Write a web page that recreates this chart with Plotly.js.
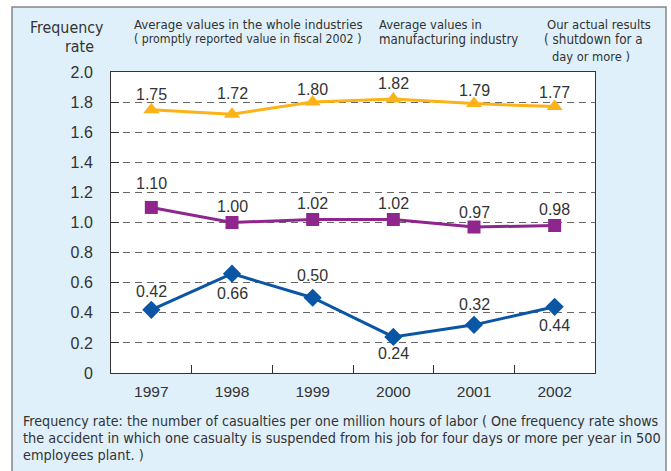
<!DOCTYPE html>
<html><head><meta charset="utf-8">
<script src="https://cdn.plot.ly/plotly-3.0.1.min.js"></script>
<style>html,body{margin:0;padding:0;background:#fff}#chart{width:671px;height:471px}</style>
</head><body><div id="chart"></div>
<script>
const years = ["1997","1998","1999","2000","2001","2002"];
const wholeIndustries = [1.75, 1.72, 1.80, 1.82, 1.79, 1.77];
const manufacturing = [1.10, 1.00, 1.02, 1.02, 0.97, 0.98];
const actualResults = [0.42, 0.66, 0.50, 0.24, 0.32, 0.44];
const yTickVals = [0, 0.2, 0.4, 0.6, 0.8, 1.0, 1.2, 1.4, 1.6, 1.8, 2.0];
const yTickText = ["0","0.2","0.4","0.6","0.8","1.0","1.2","1.4","1.6","1.8","2.0"];
const headerWhole = ["Average values in the whole industries", "( promptly reported value in fiscal 2002 )"];
const headerManu = ["Average values in", "manufacturing industry"];
const headerActual = ["Our actual results", "( shutdown for a", "day or more )"];
const yTitle = ["Frequency", "rate"];
const footnote = [
  "Frequency rate: the number of casualties per one million hours of labor ( One frequency rate shows",
  "the accident in which one casualty is suspended from his job for four days or more per year in 500",
  "employees plant. )"
];

// label placement styling (pixel shifts of value labels from their markers)
const shiftWhole = [15, 21, 13, 16, 13, 14];
const shiftManu = [24, 16, 16, 16, 15, 16];
const shiftActual = [18, -20, 22, -17, 20, -19];

const W = 671, H = 471, L = 111, R = 595, T = 72, B = 373;
const px = x => (x - L) / (R - L);
const py = y => (B - y) / (B - T);
const TXT = "#333333";
const numFam = "Liberation Sans";
const numFont = {family: numFam, size: 15.5, color: TXT};
const narrow = "DejaVu Sans Condensed";

const ctx = document.createElement("canvas").getContext("2d");
function fit(text, targetW) {
  ctx.font = '100px "' + narrow + '"';
  return 100 * targetW / ctx.measureText(text).width;
}

function series(y, color, symbol, size) {
  return {
    x: years, y: y, type: "scatter", mode: "lines+markers",
    line: {color: color, width: 3},
    marker: {color: color, symbol: symbol, size: size},
    hoverinfo: "skip", cliponaxis: false
  };
}

const data = [
  series(wholeIndustries, "#fbb317", "triangle-up", 14),
  series(manufacturing, "#8e268d", "square", 13),
  series(actualResults, "#0a56a5", "diamond", 14)
];

const ann = [];
function valueLabels(vals, shifts) {
  vals.forEach((v, i) => ann.push({
    x: years.indexOf(years[i]), y: v, xref: "x", yref: "y", text: v.toFixed(2),
    showarrow: false, yshift: shifts[i], xanchor: "center", yanchor: "middle",
    font: {family: numFam, size: 16, color: TXT}
  }));
}
valueLabels(wholeIndustries, shiftWhole);
valueLabels(manufacturing, shiftManu);
valueLabels(actualResults, shiftActual);

function addLine(text, x, y, anchor, size) {
  ann.push({text: text, x: px(x), y: py(y), xref: "paper", yref: "paper",
    xanchor: anchor, yanchor: "middle", showarrow: false, borderpad: 0,
    font: {family: narrow, size: size, color: TXT}});
}
const hb = 1.04;
addLine(headerWhole[0], 133, 24, "left", hb * fit(headerWhole[0], 220));
addLine(headerWhole[1], 133, 39.5, "left", hb * fit(headerWhole[1], 219));
addLine(headerManu[0], 378, 24, "left", hb * fit(headerManu[0], 99));
addLine(headerManu[1], 378, 39.5, "left", hb * fit(headerManu[1], 134));
addLine(headerActual[0], 546, 24, "left", hb * fit(headerActual[0], 100));
addLine(headerActual[1], 543, 40, "left", hb * fit(headerActual[1], 95));
addLine(headerActual[2], 551, 56, "left", hb * fit(headerActual[2], 75));
const fSize = 1.08 * fit(yTitle[0], 68);
addLine(yTitle[0], 66, 28, "center", fSize);
addLine(yTitle[1], 79, 46, "center", fSize);
const noteSize = fit(footnote[1], 638);
addLine(footnote[0], 22, 421, "left", fit(footnote[0], 636));
addLine(footnote[1], 22, 438, "left", noteSize);
addLine(footnote[2], 22, 455, "left", noteSize);

const layout = {
  width: W, height: H,
  margin: {l: L, r: W - R, t: T, b: H - B, pad: 0},
  paper_bgcolor: "#ffffff", plot_bgcolor: "rgba(0,0,0,0)",
  showlegend: false,
  xaxis: {
    type: "category", range: [-0.5, 5.5], tickson: "boundaries",
    ticks: "inside", ticklen: 8, tickcolor: "#333", tickwidth: 1,
    showline: true, linecolor: "#333", linewidth: 1, mirror: true,
    showgrid: false, zeroline: false, tickfont: numFont, ticklabelstandoff: 4
  },
  yaxis: {
    range: [0, 2.0], tickvals: yTickVals, ticktext: yTickText,
    ticks: "inside", ticklen: 8, tickcolor: "#333",
    showline: true, linecolor: "#333", linewidth: 1, mirror: true,
    showgrid: true, gridcolor: "#666", griddash: "7px,5px", gridwidth: 1,
    zeroline: false, tickfont: {family: numFam, size: 16, color: TXT}, ticklabelstandoff: 14
  },
  shapes: [
    {type: "rect", xref: "paper", yref: "paper", layer: "below",
     x0: px(12), x1: px(666), y0: py(480), y1: py(7),
     fillcolor: "#dff0fa", line: {color: "#858585", width: 1.5}},
    {type: "rect", xref: "paper", yref: "paper", layer: "below",
     x0: 0, x1: 1, y0: 0, y1: 1, fillcolor: "#ffffff", line: {width: 0}}
  ],
  annotations: ann
};
Plotly.newPlot("chart", data, layout, {staticPlot: true, displayModeBar: false});
</script></body></html>
